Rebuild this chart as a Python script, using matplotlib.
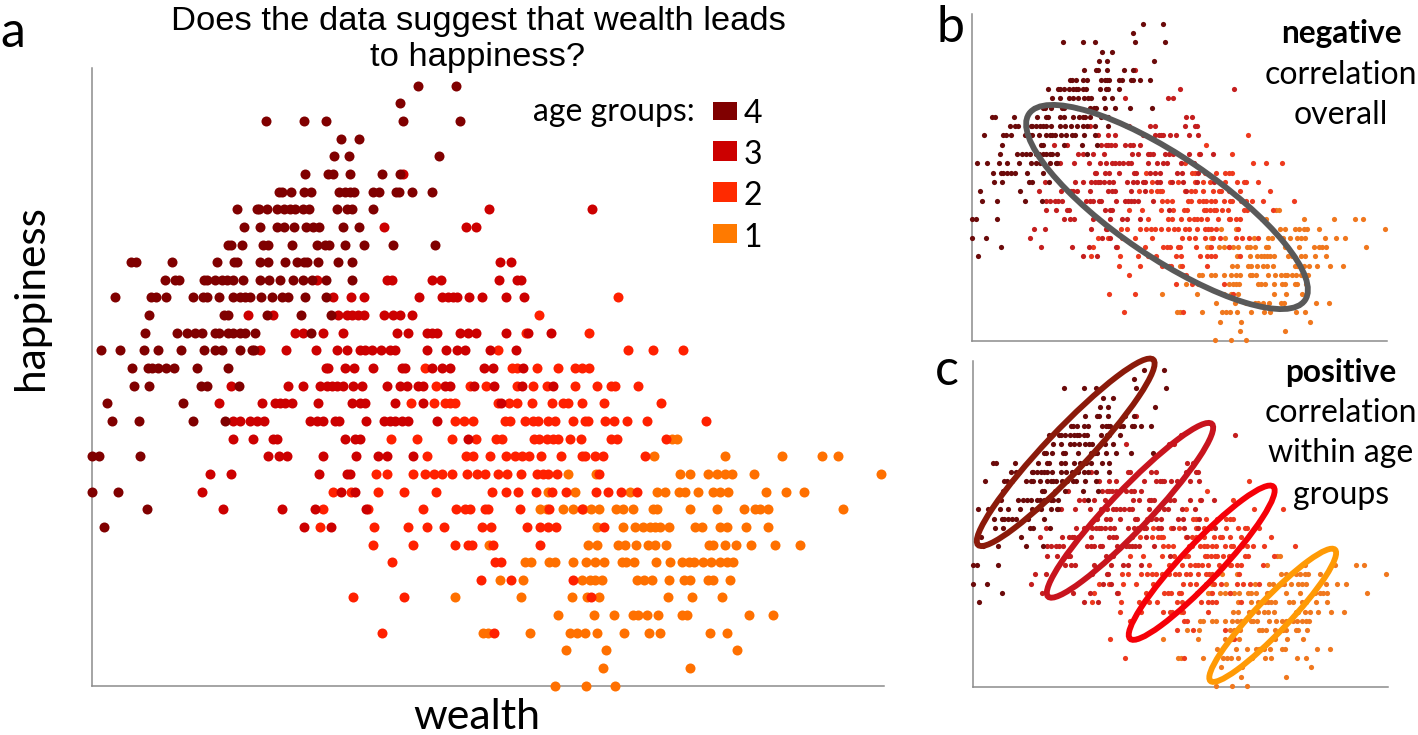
import matplotlib
matplotlib.use('Agg')
import matplotlib.pyplot as plt
from matplotlib.patches import Ellipse, Rectangle

# wealth readings per happiness level, one dict per age group
age_1 = {
    14: [580, 585],
    13: [562, 633, 690, 730, 746],
    12: [476, 504, 588, 598, 616, 625, 633, 640, 662, 789],
    11: [456, 483, 538, 565, 573, 587, 593, 606, 621, 628, 636, 674, 694, 712],
    10: [448, 455, 471, 481, 491, 499, 507, 524, 531, 541, 561, 565, 598, 625, 652, 663, 668, 676, 751],
    9: [505, 531, 543, 551, 558, 563, 568, 577, 603, 610, 628, 635, 654, 676],
    8: [397, 496, 505, 526, 533, 544, 556, 563, 574, 617, 621, 633, 644, 659, 683, 708],
    7: [433, 439, 457, 463, 481, 494, 503, 512, 530, 534, 542, 564, 578, 590, 597, 602, 611, 619, 628, 635, 641],
    6: [408, 431, 490, 498, 503, 510, 545, 552, 560, 577, 592, 598, 616, 621, 638],
    5: [363, 429, 480, 495, 507, 576, 600, 630],
    4: [466, 502, 522, 541, 546, 555, 566, 590, 595, 657, 681],
    3: [391, 396, 438, 478, 485, 493, 505, 532, 557, 568, 618, 635],
    2: [474, 514, 645],
    1: [511, 598],
    0: [463, 494, 523],
}
age_2 = {
    22: [526],
    21: [447],
    20: [434, 497],
    19: [406, 536, 561, 591],
    18: [333, 420, 425, 445, 466, 483, 490, 497],
    17: [344, 378, 394, 425, 441, 455, 483, 505, 519, 523, 546],
    16: [319, 342, 353, 358, 363, 406, 417, 425, 440, 460, 471, 476, 490, 512, 569],
    15: [363, 372, 381, 413, 418, 433, 441, 446, 456, 463, 481, 493, 496, 513, 522, 535, 555, 614],
    14: [299, 325, 360, 384, 404, 410, 442, 447, 455, 461, 466, 478, 489, 519, 525, 574],
    13: [335, 374, 381, 398, 414, 423, 430, 437, 449, 469, 490, 493, 503, 511, 553],
    12: [284, 295, 321, 333, 342, 350, 360, 375, 385, 393, 406, 415, 429, 445, 451, 456, 465, 507],
    11: [241, 259, 286, 312, 344, 400, 414, 426, 444, 460, 474, 504, 516, 529, 545],
    10: [231, 276, 331, 364, 373, 378, 393, 396, 428, 457, 490],
    9: [228, 282, 316, 335, 352, 390, 399, 435, 448, 456, 464, 512],
    8: [281, 321, 363, 376, 380, 401, 448],
    7: [300, 403, 409],
    6: [389, 419, 481],
    5: [261, 312, 499],
    3: [290, 402],
}
age_3 = {
    29: [311],
    27: [397, 500],
    26: [292, 374, 384],
    24: [408, 419],
    23: [225, 295, 300, 340, 349, 407, 425, 429],
    22: [241, 259, 272, 327, 350, 356, 361, 365, 377, 390, 414, 432],
    21: [156, 181, 246, 255, 260, 266, 272, 292, 301, 308, 320],
    20: [203, 211, 231, 251, 305, 316, 335, 340, 345, 368, 376, 384, 414, 436, 459],
    19: [168, 194, 224, 245, 255, 268, 273, 280, 289, 298, 303, 335, 354, 365, 373, 398, 424],
    18: [234, 236, 253, 262, 281, 310, 313, 340, 350, 358, 392, 401, 431],
    17: [139, 196, 211, 228, 235, 240, 245, 251, 261, 270, 295, 308, 315, 326, 331, 353, 358, 382, 402, 430, 461],
    16: [127, 170, 183, 188, 193, 200, 226, 260, 268, 273, 303, 331, 409],
    15: [141, 148, 158, 165, 172, 218, 225, 231, 243, 247, 274, 292, 298, 303, 310, 316, 345],
    14: [141, 161, 181, 185, 253, 263, 268, 376],
    13: [176, 187, 195, 231, 264, 286, 295, 321],
    12: [118, 139, 227, 255, 258],
    11: [110, 249, 263],
    10: [131, 190, 223, 274],
    9: [212, 239],
}
age_4 = {
    34: [326, 364],
    33: [308],
    32: [174, 212, 234, 311, 368],
    31: [249, 267],
    30: [242, 257, 347],
    29: [213, 236, 241, 258, 290, 308],
    28: [187, 190, 199, 212, 219, 247, 253, 258, 262, 281, 287, 304, 307, 320, 340],
    27: [145, 165, 167, 175, 185, 192, 198, 203, 211, 217, 245, 255, 260, 281],
    26: [152, 168, 185, 192, 202, 214, 221, 227, 251, 267],
    25: [136, 139, 150, 171, 176, 200, 225, 233, 237, 253, 272, 301, 343],
    24: [39, 44, 80, 125, 142, 145, 168, 176, 193, 205, 212, 215, 226, 246, 260],
    23: [73, 83, 87, 112, 115, 123, 130, 135, 141, 151, 168, 177, 188, 201, 211, 220, 234, 260],
    22: [23, 59, 64, 74, 101, 111, 115, 127, 141, 148, 153, 158, 169, 180, 190, 196, 213, 234],
    21: [57, 132, 136, 175, 209, 239],
    20: [53, 85, 95, 103, 110, 123, 127, 136, 141, 148, 153, 163, 219],
    19: [9, 28, 52, 66, 89, 112, 123, 130, 148, 160, 162],
    18: [40, 56, 60, 66, 74, 82, 105, 136],
    17: [42, 57, 109, 115, 147],
    16: [15, 91],
    15: [20, 47, 101, 133],
    13: [0, 7, 48],
    11: [0, 26],
    10: [55],
    9: [12],
}
groups = [age_1, age_2, age_3, age_4]  # drawn oldest on top
main_colors = ['#FF7000', '#FF2000', '#CC0000', '#800000']
small_colors = ['#F0781E', '#EE3A1E', '#C41E1E', '#6B0A0A']
legend_labels = ['4', '3', '2', '1']
legend_colors = ['#800000', '#CC0000', '#FF2A00', '#FF7A00']

W, H = 1418, 735
fig = plt.figure(figsize=(W/100, H/100), dpi=100)


def make_axes(left, right, top, bottom, row0, row34):
    # pixel box to figure fractions, y limits follow from the row spacing
    ax = fig.add_axes([left/W, (H-bottom)/H, (right-left)/W, (bottom-top)/H])
    step = (row0-row34)/34
    ax.set_xlim(0, 792)
    ax.set_ylim((row0-bottom)/step, (row0-top)/step)
    ax.set_xticks([])
    ax.set_yticks([])
    ax.spines['top'].set_visible(False)
    ax.spines['right'].set_visible(False)
    ax.spines['left'].set_color('#8c8c8c')
    ax.spines['bottom'].set_color('#8c8c8c')
    ax.spines['left'].set_linewidth(1.1)
    ax.spines['bottom'].set_linewidth(1.1)
    return ax


def draw_points(ax, colors, size):
    for group, color in zip(groups, colors):
        for level, wealth in group.items():
            ax.scatter(wealth, [level]*len(wealth), s=size, color=color,
                       linewidths=0, clip_on=False, zorder=3)


ax_a = make_axes(92, 884, 68, 686, 685.7, 85.7)
ax_b = make_axes(972, 1387, 14, 340.5, 340.3, 23.7)
ax_c = make_axes(973, 1388, 361, 686.5, 686, 369.7)
draw_points(ax_a, main_colors, 52)
draw_points(ax_b, small_colors, 14)
draw_points(ax_c, small_colors, 14)

# everything else is placed in image pixels
over = fig.add_axes([0, 0, 1, 1])
over.set_xlim(0, W)
over.set_ylim(H, 0)
over.axis('off')

rings = [
    (1167, 207, 333, 101, 34, '#595959'),
    (1065.7, 452.3, 255, 42, -46.6, '#8B1A0A'),
    (1130, 510.3, 238, 40, -46.5, '#C8141E'),
    (1201.7, 562.7, 209, 38, -46.7, '#F50008'),
    (1272.7, 615.3, 181, 33, -46.5, '#FF9A05'),
]
for cx, cy, w, h, ang, color in rings:
    over.add_patch(Ellipse((cx, cy), w, h, angle=ang, fill=False,
                           edgecolor=color, linewidth=4.2, zorder=5))

boxes = [(102, 18), (141, 20), (182, 20), (224, 19)]
label_y = [114, 155, 196, 238]
for (y0, hgt), col, lab, ly in zip(boxes, legend_colors, legend_labels, label_y):
    over.add_patch(Rectangle((713, y0), 24, hgt, color=col, linewidth=0))
    over.text(753, ly, lab, fontsize=23, family='Lato', ha='center', va='center')
over.text(614, 112, 'age groups:', fontsize=23, family='Lato', ha='center', va='center')

over.text(478, 39.5, 'Does the data suggest that wealth leads\nto happiness?',
          fontsize=24.8, family='Liberation Sans', ha='center', va='center',
          linespacing=1.17)
over.text(477, 717, 'wealth', fontsize=31, family='Lato', ha='center', va='center')
over.text(31, 298, 'happiness', fontsize=30.5, family='Lato', rotation=90,
          ha='center', va='center')
over.text(13, 33, 'a', fontsize=36, family='Lato', ha='center', va='center')
over.text(950, 28, 'b', fontsize=36, family='Lato', ha='center', va='center')
over.text(947, 371, 'c', fontsize=36, family='Lato', ha='center', va='center')

over.text(1341, 33, 'negative', fontsize=22.8, family='Lato', weight='bold', ha='center', va='center')
over.text(1341, 75, 'correlation', fontsize=23, family='Lato', ha='center', va='center')
over.text(1341, 115, 'overall', fontsize=23, family='Lato', ha='center', va='center')
over.text(1341, 372, 'positive', fontsize=22.8, family='Lato', weight='bold', ha='center', va='center')
over.text(1341, 413, 'correlation', fontsize=23, family='Lato', ha='center', va='center')
over.text(1341, 453, 'within age', fontsize=23, family='Lato', ha='center', va='center')
over.text(1341, 495, 'groups', fontsize=23, family='Lato', ha='center', va='center')

fig.savefig('out.png', dpi=100)
